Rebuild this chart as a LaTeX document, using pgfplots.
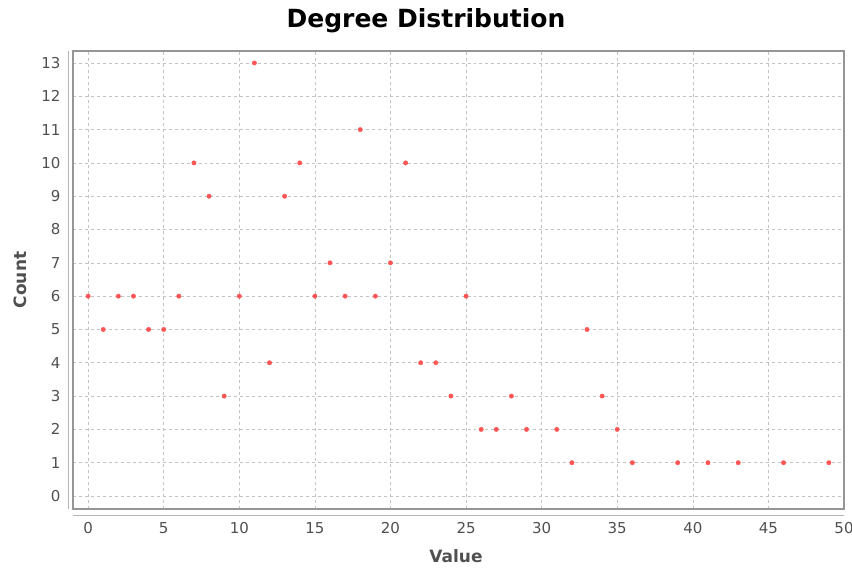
\documentclass[border=0pt]{standalone}
\usepackage{pgfplots}
\pgfplotsset{compat=1.18}
\usepackage{fontspec}
\setmainfont{DejaVu Sans}
\definecolor{ptred}{RGB}{255,85,85}
\definecolor{gridc}{RGB}{195,195,195}
\definecolor{framec}{RGB}{150,150,150}
\definecolor{tickc}{RGB}{80,80,80}
\begin{document}
\begin{tikzpicture}
\begin{axis}[
  at={(0,0)}, anchor=south west,
  scale only axis, width=771bp, height=458bp,
  xmin=-1, xmax=50, ymin=-0.39, ymax=13.36,
  xtick={0,5,...,50}, ytick={0,1,...,13},
  grid=major,
  major grid style={gridc, dashed, line width=0.6pt},
  axis line style={framec, line width=1.2pt},
  major tick length=0pt,
  tick style={draw=none},
  /pgf/number format/assume math mode=true,
  ticklabel style={font=\fontsize{15bp}{18bp}\selectfont, text=tickc},
  yticklabel style={xshift=-9bp},
  xticklabel style={yshift=-10bp},
  clip=false,
]
\addplot[only marks, mark=*, mark size=2.2bp, ptred, mark options={draw=ptred, fill=ptred}] coordinates {
(0,6) (1,5) (2,6) (3,6) (4,5) (5,5) (6,6) (7,10) (8,9) (9,3)
(10,6) (11,13) (12,4) (13,9) (14,10) (15,6) (16,7) (17,6) (18,11) (19,6)
(20,7) (21,10) (22,4) (23,4) (24,3) (25,6) (26,2) (27,2) (28,3) (29,2)
(31,2) (32,1) (33,5) (34,3) (35,2) (36,1) (39,1) (41,1) (43,1) (46,1) (49,1)
};
\end{axis}
\draw[gridc!80!gray, line width=1pt] (-5bp,0) -- (-5bp,458bp);
\draw[gridc!80!gray, line width=1pt] (0,-6bp) -- (771bp,-6bp);
\node[font=\bfseries\fontsize{25bp}{28bp}\selectfont] at (353bp,488bp) {Degree Distribution};
\node[font=\bfseries\fontsize{17bp}{20bp}\selectfont, text=tickc] at (383bp,-47bp) {Value};
\node[font=\bfseries\fontsize{17bp}{20bp}\selectfont, text=tickc, rotate=90] at (-53bp,229bp) {Count};
\pgfresetboundingbox
\path[use as bounding box] (-73bp,-59bp) rectangle (779bp,509bp);
\end{tikzpicture}
\end{document}
